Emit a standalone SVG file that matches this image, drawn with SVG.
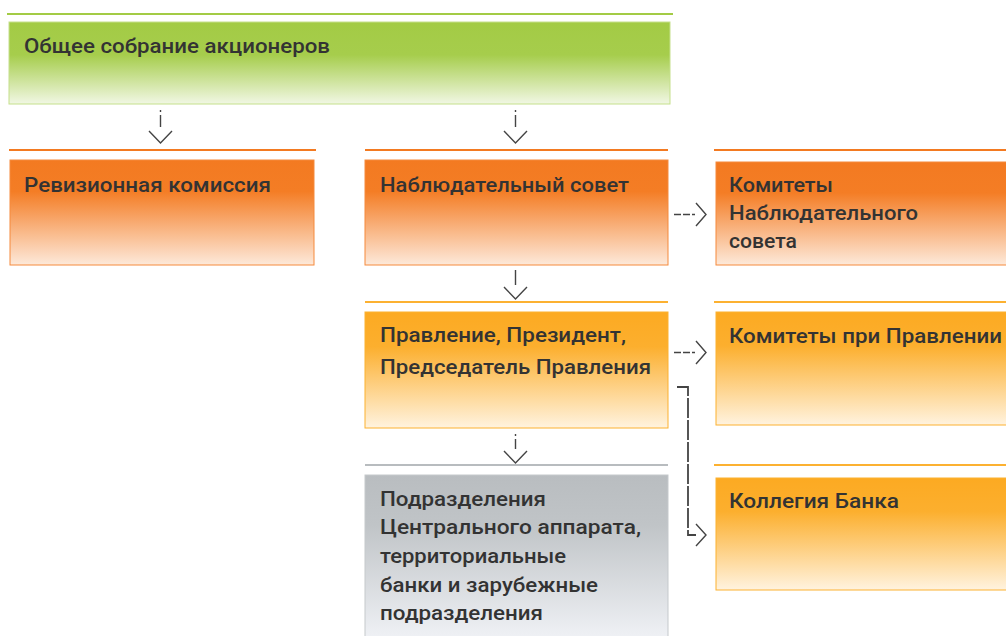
<svg xmlns="http://www.w3.org/2000/svg" width="1006" height="636" viewBox="0 0 1006 636">
<defs>
<linearGradient id="gGreen" x1="0" y1="0" x2="0" y2="1">
<stop offset="0" stop-color="#a3cb45"/><stop offset="0.4" stop-color="#a6cd4c"/><stop offset="1" stop-color="#f1f7e4"/>
</linearGradient>
<linearGradient id="gOrange" x1="0" y1="0" x2="0" y2="1">
<stop offset="0" stop-color="#f37a21"/><stop offset="0.3" stop-color="#f47d25"/><stop offset="1" stop-color="#fde9da"/>
</linearGradient>
<linearGradient id="gYellow" x1="0" y1="0" x2="0" y2="1">
<stop offset="0" stop-color="#fcaa22"/><stop offset="0.3" stop-color="#fcaf2e"/><stop offset="1" stop-color="#fff3df"/>
</linearGradient>
<linearGradient id="gGrey" x1="0" y1="0" x2="0" y2="1">
<stop offset="0" stop-color="#b9bdc0"/><stop offset="0.3" stop-color="#c0c4c7"/><stop offset="1" stop-color="#f0f2f6"/>
</linearGradient>
</defs>
<style>
text{font-family:Roboto,"DejaVu Sans","Liberation Sans",sans-serif;font-size:20px;font-weight:500;fill:#333333}
.lg{stroke:#a3cb45;stroke-width:2}
.lo{stroke:#f37a21;stroke-width:2}
.ly{stroke:#fcb131;stroke-width:2}
.lr{stroke:#b8bcbf;stroke-width:2}
.c{fill:none;stroke:#444;stroke-width:1.4}
.d{fill:none;stroke:#444;stroke-width:1.6;stroke-dasharray:7 2}
.b{fill:none;stroke:#444;stroke-width:1.8;stroke-dasharray:20 2}
</style>
<rect width="1006" height="636" fill="#ffffff"/>
<g id="n-assembly">
<line class="lg" x1="7" y1="14" x2="673" y2="14"/>
<rect x="9" y="22" width="661" height="82" fill="url(#gGreen)" stroke="#c5e08b" stroke-width="1"/>
<text x="24" y="53" textLength="306" lengthAdjust="spacingAndGlyphs">Общее собрание акционеров</text>
</g>
<g id="n-audit">
<line class="lo" x1="9" y1="150" x2="316" y2="150"/>
<rect x="10" y="160" width="304" height="105" fill="url(#gOrange)" stroke="#f58a3c" stroke-width="1"/>
<text x="24" y="192" textLength="247" lengthAdjust="spacingAndGlyphs">Ревизионная комиссия</text>
</g>
<g id="n-board">
<line class="lo" x1="365" y1="150" x2="668" y2="150"/>
<rect x="365" y="160" width="303" height="105" fill="url(#gOrange)" stroke="#f58a3c" stroke-width="1"/>
<text x="380" y="192" textLength="249" lengthAdjust="spacingAndGlyphs">Наблюдательный совет</text>
</g>
<g id="n-board-committees">
<line class="lo" x1="714" y1="150" x2="1006" y2="150"/>
<rect x="716" y="162" width="292" height="103" fill="url(#gOrange)" stroke="#f58a3c" stroke-width="1"/>
<text x="729" y="192" textLength="104" lengthAdjust="spacingAndGlyphs">Комитеты</text>
<text x="729" y="220" textLength="189" lengthAdjust="spacingAndGlyphs">Наблюдательного</text>
<text x="729" y="248" textLength="68" lengthAdjust="spacingAndGlyphs">совета</text>
</g>
<g id="n-management">
<line class="ly" x1="365" y1="302" x2="668" y2="302"/>
<rect x="365" y="312" width="303" height="116" fill="url(#gYellow)" stroke="#fcb131" stroke-width="1"/>
<text x="380" y="342" textLength="246" lengthAdjust="spacingAndGlyphs">Правление, Президент,</text>
<text x="380" y="374" textLength="271" lengthAdjust="spacingAndGlyphs">Председатель Правления</text>
</g>
<g id="n-mgmt-committees">
<line class="ly" x1="714" y1="302" x2="1006" y2="302"/>
<rect x="716" y="312" width="292" height="113" fill="url(#gYellow)" stroke="#fcb131" stroke-width="1"/>
<text x="729" y="343" textLength="273" lengthAdjust="spacingAndGlyphs">Комитеты при Правлении</text>
</g>
<g id="n-divisions">
<line class="lr" x1="365" y1="465" x2="668" y2="465"/>
<rect x="365" y="475" width="303" height="165" fill="url(#gGrey)" stroke="#c5c9cc" stroke-width="1"/>
<text x="380" y="506" textLength="166" lengthAdjust="spacingAndGlyphs">Подразделения</text>
<text x="380" y="534" textLength="261" lengthAdjust="spacingAndGlyphs">Центрального аппарата,</text>
<text x="380" y="563" textLength="186" lengthAdjust="spacingAndGlyphs">территориальные</text>
<text x="380" y="592" textLength="218" lengthAdjust="spacingAndGlyphs">банки и зарубежные</text>
<text x="380" y="620" textLength="163" lengthAdjust="spacingAndGlyphs">подразделения</text>
</g>
<g id="n-collegium">
<line class="ly" x1="714" y1="465" x2="1006" y2="465"/>
<rect x="716" y="478" width="292" height="112" fill="url(#gYellow)" stroke="#fcb131" stroke-width="1"/>
<text x="729" y="508" textLength="170" lengthAdjust="spacingAndGlyphs">Коллегия Банка</text>
</g>
<g id="connectors">
<g id="e-assembly-audit">
<line class="c" x1="160.5" y1="110" x2="160.5" y2="112"/>
<line class="c" x1="160.5" y1="115" x2="160.5" y2="127"/>
<polyline class="c" points="149,131 160.5,143 172,131"/>
</g>
<g id="e-assembly-board">
<line class="c" x1="515.5" y1="110" x2="515.5" y2="112"/>
<line class="c" x1="515.5" y1="115" x2="515.5" y2="127"/>
<polyline class="c" points="504,131 515.5,143 527,131"/>
</g>
<g id="e-board-management">
<line class="c" x1="515.5" y1="270" x2="515.5" y2="285"/>
<polyline class="c" points="504,287 515.5,299 527,287"/>
</g>
<g id="e-management-divisions">
<line class="c" x1="515.5" y1="434" x2="515.5" y2="436"/>
<line class="c" x1="515.5" y1="439" x2="515.5" y2="449"/>
<polyline class="c" points="504,451 515.5,463 527,451"/>
</g>
<line id="e-board-committees" class="d" x1="674" y1="214.5" x2="695" y2="214.5"/>
<polyline class="c" points="696,203 706,214.5 696,226"/>
<line id="e-mgmt-committees" class="d" x1="674" y1="352.5" x2="695" y2="352.5"/>
<polyline class="c" points="696,341 706,352.5 696,364"/>
<polyline id="e-mgmt-collegium" class="b" points="677,387 688,387 688,535 696,535"/>
<polyline class="c" points="696,524 706,535 696,546"/>
</g>
</svg>
